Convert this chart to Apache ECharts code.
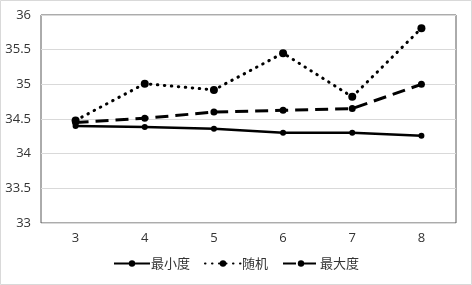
<!DOCTYPE html>
<html>
<head>
<meta charset="utf-8">
<script src="https://cdn.jsdelivr.net/npm/echarts@6/dist/echarts.min.js"></script>
<style>
  html, body { margin: 0; padding: 0; background: #fff; }
  #main { width: 472px; height: 285px; }
</style>
</head>
<body>
<div id="main"></div>
<script>
const categories = ['3', '4', '5', '6', '7', '8'];
const minDegree = [34.40, 34.385, 34.36, 34.30, 34.30, 34.26];
const randomPick = [34.48, 35.01, 34.92, 35.45, 34.82, 35.81];
const maxDegree = [34.45, 34.51, 34.60, 34.625, 34.65, 35.00];

const chart = echarts.init(document.getElementById('main'), null, { renderer: 'canvas' });

const cjk = '"Noto Sans CJK SC", sans-serif';

let option = {
  animation: false,
  backgroundColor: '#fff',
  graphic: [{
    type: 'rect',
    shape: { x: 0.5, y: 0.5, width: 471, height: 284 },
    style: { fill: 'none', stroke: '#d9d9d9', lineWidth: 1 },
    silent: true
  }],
  grid: {
    left: 41,
    right: 16,
    top: 15,
    bottom: 62,
    show: true,
    borderColor: '#595959',
    borderWidth: 1
  },
  legend: {
    bottom: 10,
    left: 'center',
    itemWidth: 36,
    itemHeight: 8,
    itemGap: 14,
    textStyle: { fontFamily: cjk, fontSize: 13, color: '#333', padding: [0, 0, 0, -4] },
    data: ['最小度', '随机', '最大度']
  },
  xAxis: {
    type: 'category',
    data: categories,
    axisLine: { show: false },
    axisTick: { show: false },
    axisLabel: { margin: 9, fontSize: 13, color: '#333', fontFamily: 'Open Sans, sans-serif' },
    splitLine: { show: false }
  },
  yAxis: {
    type: 'value',
    min: 33,
    max: 36,
    interval: 0.5,
    axisLine: { show: false },
    axisTick: { show: false },
    axisLabel: { margin: 10, fontSize: 13, color: '#333', fontFamily: 'Open Sans, sans-serif' },
    splitLine: { lineStyle: { color: '#d9d9d9', width: 1 } }
  },
  series: [
    {
      name: '最小度',
      type: 'line',
      data: minDegree,
      symbol: 'circle',
      symbolSize: 6,
      color: '#000',
      lineStyle: { color: '#000', width: 2.5, type: 'solid' },
      itemStyle: { color: '#000' }
    },
    {
      name: '随机',
      type: 'line',
      data: randomPick,
      symbol: 'circle',
      symbolSize: 8,
      color: '#000',
      lineStyle: { color: '#000', width: 3, type: [0.5, 6.5], cap: 'round' },
      itemStyle: { color: '#000' }
    },
    {
      name: '最大度',
      type: 'line',
      data: maxDegree,
      symbol: 'circle',
      symbolSize: 7,
      color: '#000',
      lineStyle: { color: '#000', width: 3, type: [13, 7] },
      itemStyle: { color: '#000' }
    }
  ]
};

chart.setOption(option);
</script>
</body>
</html>
